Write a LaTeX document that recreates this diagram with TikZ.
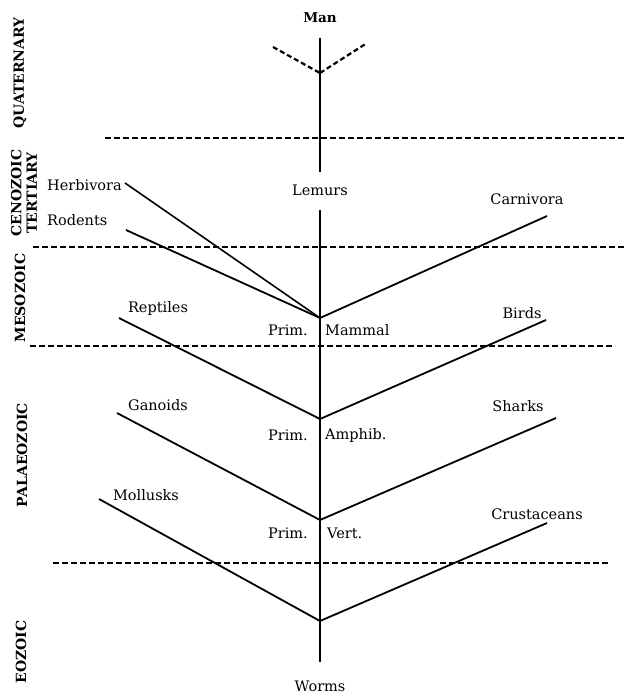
\documentclass[tikz,border=0pt]{standalone}
\usepackage{fontspec}
\setmainfont{DejaVu Serif}
\begin{document}
\begin{tikzpicture}[x=1pt,y=-1pt,
  lbl/.style={font=\fontsize{14.5}{16}\selectfont, inner sep=1pt},
  era/.style={font=\fontsize{14}{15.5}\bfseries\selectfont, rotate=90, inner sep=0pt, align=center},
  trunk/.style={line width=2.8pt},
  branch/.style={line width=1.8pt},
  epoch/.style={line width=1.6pt, dash pattern=on 6pt off 3pt},
  sprout/.style={line width=2.2pt, dash pattern=on 5pt off 3pt}]
\useasboundingbox (0,0) rectangle (634,696);

% era labels
\node[era] (quat) at (20,73) {QUATERNARY};
\node[era] (ceno) at (24,193) {CENOZOIC\\TERTIARY};
\node[era] (meso) at (20,298) {MESOZOIC};
\node[era] (pal) at (22,455) {PALAEOZOIC};
\node[era] (eoz) at (21,652) {EOZOIC};

% epoch boundaries
\coordinate (d1a) at (105,138); \coordinate (d1b) at (625,138);
\coordinate (d2a) at (33,247);  \coordinate (d2b) at (625,247);
\coordinate (d3a) at (30,346);  \coordinate (d3b) at (615,346);
\coordinate (d4a) at (53,563);  \coordinate (d4b) at (610,563);
\draw[epoch] (d1a) -- (d1b);
\draw[epoch] (d2a) -- (d2b);
\draw[epoch] (d3a) -- (d3b);
\draw[epoch] (d4a) -- (d4b);

% trunk
\node[lbl, font=\fontsize{13.5}{15}\bfseries\selectfont] (man) at (320,18) {Man};
\node[lbl] (lemurs) at (320,190) {Lemurs};
\node[lbl] (worms) at (320,686) {Worms};
\coordinate (t0) at (320,38);
\coordinate (t1) at (320,172);
\coordinate (t2) at (320,210);
\coordinate (jm) at (320,318);
\coordinate (ja) at (320,419);
\coordinate (jv) at (320,520);
\coordinate (jw) at (320,621);
\coordinate (t3) at (320,662);
\coordinate (vj) at (320,73);
\draw[trunk] (t0) -- (t1);
\draw[trunk] (t2) -- (jm) -- (ja) -- (jv) -- (jw) -- (t3);

% sprouts above man
\coordinate (sl) at (273,47);
\coordinate (sr) at (367,43);
\draw[sprout] (sl) -- (vj);
\draw[sprout] (vj) -- (sr);

% branch ends
\coordinate (herb) at (125,183);
\coordinate (rod) at (126,230);
\coordinate (carn) at (547,216);
\coordinate (rept) at (119,318);
\coordinate (bird) at (546,320);
\coordinate (gano) at (117,413);
\coordinate (shark) at (556,418);
\coordinate (moll) at (99,499);
\coordinate (crust) at (547,523);

\draw[branch, line width=1.6pt] (herb) -- (jm);
\draw[branch] (rod) -- (jm);
\draw[branch] (jm) -- (carn);
\draw[branch] (rept) -- (ja);
\draw[branch] (ja) -- (bird);
\draw[branch] (gano) -- (jv);
\draw[branch] (jv) -- (shark);
\draw[branch] (moll) -- (jw);
\draw[branch] (jw) -- (crust);

% labels
\node[lbl, anchor=west] (lherb) at (46,185) {Herbivora};
\node[lbl, anchor=west] (lrod) at (46,220) {Rodents};
\node[lbl] (lcarn) at (527,199) {Carnivora};
\node[lbl] (lrept) at (158,308) {Reptiles};
\node[lbl] (lbird) at (522,313) {Birds};
\node[lbl] (lgano) at (158,405) {Ganoids};
\node[lbl] (lshark) at (518,406) {Sharks};
\node[lbl] (lmoll) at (146,495) {Mollusks};
\node[lbl] (lcrust) at (537,514) {Crustaceans};
\node[lbl, anchor=east] (p1) at (309,330) {Prim.};
\node[lbl, anchor=west] (mam) at (324,330) {Mammal};
\node[lbl, anchor=east] (p2) at (309,435) {Prim.};
\node[lbl, anchor=west] (amph) at (324,435) {Amphib.};
\node[lbl, anchor=east] (p3) at (309,533) {Prim.};
\node[lbl, anchor=west] (vert) at (326,533) {Vert.};
\end{tikzpicture}
\end{document}
